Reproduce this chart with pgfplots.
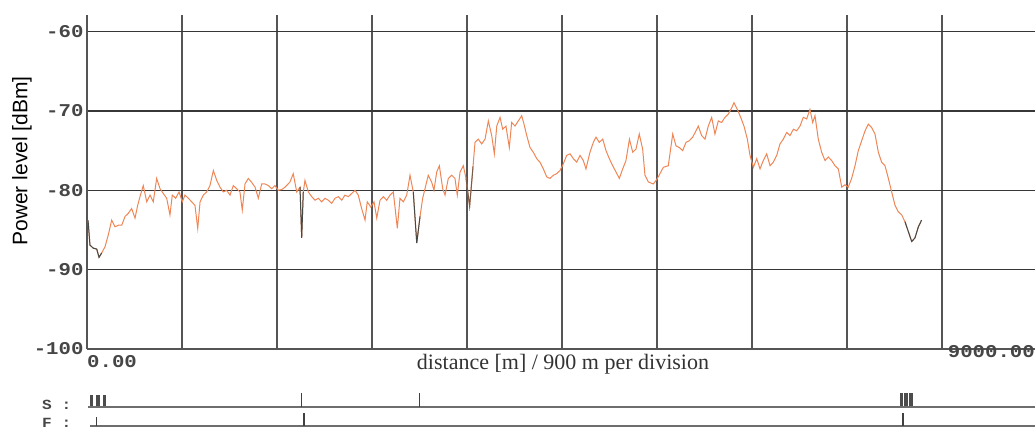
\documentclass[border=0pt]{standalone}
\usepackage{pgfplots}
\pgfplotsset{compat=1.18}
\usepackage{fontspec}
\setmainfont{Liberation Sans}
\newfontfamily\serifont{Liberation Serif}
\newfontfamily\dotfont{Liberation Mono}[FakeStretch=1.15]
\definecolor{trace}{RGB}{238,134,86}
\definecolor{darktrace}{RGB}{70,74,70}
\definecolor{gridv}{RGB}{85,85,85}
\definecolor{gridh}{RGB}{55,55,55}
\definecolor{lbl}{RGB}{70,70,70}
\begin{document}
\begin{tikzpicture}
\useasboundingbox (0pt,0pt) rectangle (1035pt,435pt);
\begin{axis}[
  at={(87pt,86pt)}, anchor=south west, scale only axis,
  width=950pt, height=334pt,
  xmin=0, xmax=9000, ymin=-100, ymax=-57.9,
  axis x line*=bottom, axis y line*=left,
  axis line style={draw=gridv, line width=1.5pt},
  xtick={0,900,...,9000}, xticklabels={},
  ytick={-100,-90,-80,-70,-60},
  yticklabels={-100,-90,-80,-70,-60},
  yticklabel style={font=\dotfont\bfseries\fontsize{18}{18}\selectfont, text=lbl},
  major tick length=0pt,
  grid=major,
  x grid style={draw=gridv, line width=1.3pt},
  y grid style={draw=gridh, line width=1.6pt},
  clip=false,
]
\addplot[trace, line width=1pt] coordinates {
(10,-83.8) (28,-86.9) (60,-87.3) (92,-87.4) (114,-88.45) (139,-87.9) (171,-87.1) (202,-85.6) (234,-83.75) (265,-84.6)
(297,-84.4) (329,-84.4) (360,-83.3) (391,-82.9) (423,-82.3) (455,-83.5) (480,-81.9) (502,-80.8) (533,-79.4) (566,-81.45)
(597,-80.6) (628,-81.45) (660,-78.5) (692,-79.8) (723,-80.4) (755,-81.0) (786,-83.1) (808,-80.6) (840,-81.0) (872,-80.2)
(903,-81.45) (928,-80.6) (960,-81.0) (992,-81.45) (1023,-81.9) (1049,-84.8) (1071,-81.45) (1102,-80.6) (1134,-80.2) (1165,-79.4)
(1197,-77.5) (1229,-78.75) (1260,-79.6) (1291,-80.2) (1323,-80.0) (1355,-80.6) (1386,-79.4) (1418,-79.8) (1449,-80.2) (1471,-82.5)
(1497,-79.2) (1528,-78.5) (1560,-79.0) (1592,-79.6) (1623,-81.0) (1655,-79.2) (1686,-79.2) (1718,-79.4) (1750,-79.8) (1781,-79.4)
(1812,-80.0) (1845,-79.9) (1876,-79.6) (1923,-78.95) (1954,-77.9) (1987,-80.2) (2018,-79.6) (2034,-86.0) (2049,-80.2) (2065,-78.75)
(2097,-80.2) (2129,-80.8) (2160,-81.25) (2192,-81.0) (2223,-81.45) (2255,-81.0) (2286,-81.25) (2318,-81.65) (2349,-81.0) (2381,-80.8)
(2413,-81.25) (2444,-80.6) (2475,-80.8) (2508,-80.4) (2539,-80.0) (2570,-80.6) (2602,-82.3) (2634,-83.75) (2655,-81.45) (2688,-82.1)
(2719,-81.45) (2745,-83.5) (2776,-81.25) (2807,-80.8) (2839,-81.25) (2871,-80.6) (2902,-80.2) (2940,-84.8) (2965,-81.0) (2997,-81.45)
(3029,-80.6) (3060,-78.1) (3091,-80.2) (3124,-86.65) (3155,-83.3) (3180,-81.0) (3202,-79.8) (3233,-78.1) (3265,-78.95) (3287,-80.0)
(3313,-77.7) (3338,-76.9) (3370,-79.8) (3392,-80.6) (3423,-78.5) (3455,-78.1) (3486,-78.5) (3508,-80.6) (3534,-77.7) (3565,-76.9)
(3591,-78.5) (3625,-82.0) (3657,-77.0) (3676,-73.95) (3707,-73.55) (3739,-74.15) (3771,-73.55) (3802,-71.25) (3834,-73.1) (3859,-75.4)
(3882,-71.9) (3913,-70.8) (3938,-72.3) (3969,-71.9) (4001,-74.6) (4023,-71.45) (4055,-71.9) (4086,-71.25) (4118,-70.6) (4140,-71.65)
(4166,-73.1) (4197,-74.6) (4228,-75.2) (4260,-76.0) (4291,-76.45) (4323,-77.3) (4355,-78.3) (4386,-78.5) (4418,-78.1) (4450,-77.9)
(4481,-77.5) (4513,-76.65) (4544,-75.6) (4576,-75.4) (4607,-76.0) (4639,-76.45) (4671,-75.6) (4702,-76.25) (4727,-77.3) (4765,-75.2)
(4797,-73.95) (4822,-73.3) (4853,-73.95) (4886,-73.55) (4917,-75.0) (4948,-76.0) (4980,-76.9) (5012,-77.7) (5043,-78.5) (5075,-77.3)
(5106,-76.25) (5139,-73.55) (5170,-75.2) (5201,-74.8) (5232,-72.9) (5264,-74.8) (5286,-78.1) (5318,-78.95) (5365,-79.2) (5400,-78.6)
(5460,-77.1) (5507,-76.9) (5549,-72.9) (5580,-74.4) (5611,-74.6) (5643,-75.0) (5675,-73.95) (5706,-73.75) (5738,-73.3) (5769,-72.5)
(5791,-71.9) (5823,-73.1) (5855,-73.55) (5886,-71.9) (5918,-70.8) (5949,-72.9) (5981,-71.25) (6012,-71.45) (6044,-70.8) (6075,-70.4)
(6108,-69.6) (6129,-68.95) (6161,-69.8) (6193,-70.8) (6224,-71.9) (6256,-73.55) (6281,-75.6) (6313,-77.1) (6345,-76.0) (6376,-77.3)
(6407,-76.25) (6439,-75.4) (6471,-76.9) (6502,-76.45) (6534,-75.6) (6565,-74.15) (6597,-73.55) (6629,-72.7) (6660,-73.1) (6692,-72.3)
(6723,-72.5) (6755,-71.9) (6786,-70.8) (6818,-71.0) (6849,-69.8) (6875,-71.45) (6897,-70.6) (6928,-73.55) (6960,-75.2) (6992,-76.25)
(7023,-75.8) (7055,-76.25) (7086,-76.9) (7118,-77.3) (7150,-79.6) (7181,-79.3) (7212,-79.6) (7244,-78.5) (7276,-76.9) (7307,-75.0)
(7339,-73.75) (7371,-72.5) (7402,-71.65) (7434,-72.1) (7465,-72.9) (7497,-75.2) (7528,-76.45) (7560,-76.9) (7592,-78.5) (7623,-80.2)
(7655,-81.9) (7686,-82.7) (7718,-83.1) (7749,-83.95) (7781,-85.2) (7813,-86.45) (7844,-86.0) (7876,-84.6) (7907,-83.75)
};
\addplot[darktrace, line width=1pt] coordinates {(10,-83.8) (28,-86.9) (60,-87.3) (92,-87.4) (114,-88.45) (139,-87.9)};
\addplot[darktrace, line width=1pt] coordinates {(2018,-79.6) (2034,-86.0) (2049,-80.2)};
\addplot[darktrace, line width=1pt] coordinates {(3091,-80.2) (3124,-86.65) (3155,-83.3)};
\addplot[darktrace!70!trace, line width=1pt] coordinates {(3591,-78.5) (3625,-82.0) (3657,-77.0)};
\addplot[darktrace, line width=1pt] coordinates {(7749,-83.95) (7781,-85.2) (7813,-86.45) (7844,-86.0) (7876,-84.6) (7907,-83.75)};
\end{axis}
% event marker strips (S and F)
\begin{axis}[
  at={(87pt,0pt)}, anchor=south west, scale only axis,
  width=950pt, height=50pt,
  xmin=0, xmax=9000, ymin=0, ymax=50,
  hide axis, clip=false,
]
\addplot[gridv!85, line width=1.5pt] coordinates {(10,28) (9000,28)};
\addplot[gridv!85, line width=1.5pt] coordinates {(28,9) (9000,9)};
\addplot[black!75, line width=1.2pt] coordinates {(2034,28) (2034,42)};
\addplot[black!75, line width=1.2pt] coordinates {(3148,28) (3148,42)};
\addplot[black!70, line width=3.4pt] coordinates {(40,29) (40,40)};
\addplot[black!70, line width=3.4pt] coordinates {(104,29) (104,40)};
\addplot[black!70, line width=3.4pt] coordinates {(168,29) (168,40)};
\addplot[black!70, line width=3.4pt] coordinates {(7714,29) (7714,42)};
\addplot[black!70, line width=3.4pt] coordinates {(7760,29) (7760,42)};
\addplot[black!70, line width=3.4pt] coordinates {(7806,29) (7806,42)};
\addplot[black!75, line width=1.2pt] coordinates {(92,9) (92,18)};
\addplot[black!75, line width=1.2pt] coordinates {(2056,9) (2056,22)};
\addplot[black!75, line width=1.2pt] coordinates {(7731,9) (7731,22)};
\end{axis}
\node[rotate=90, font=\fontsize{21}{21}\selectfont] at (22pt,274pt) {Power level [dBm]};
\node[anchor=west, inner sep=0pt, text=lbl, font=\dotfont\bfseries\fontsize{18}{18}\selectfont] at (87pt,73pt) {0.00};
\node[anchor=east, inner sep=0pt, text=lbl, font=\dotfont\bfseries\fontsize{18}{18}\selectfont] at (1035pt,83pt) {9000.00};
\node[text=black!80, font=\serifont\fontsize{22}{22}\selectfont] at (563pt,71pt) {distance [m] / 900 m per division};
\node[anchor=base west, inner sep=0pt, text=lbl, font=\dotfont\bfseries\fontsize{14}{14}\selectfont] at (42pt,25pt) {S :};
\node[anchor=base west, inner sep=0pt, text=lbl, font=\dotfont\bfseries\fontsize{14}{14}\selectfont] at (42pt,7pt) {F :};
\end{tikzpicture}
\end{document}
